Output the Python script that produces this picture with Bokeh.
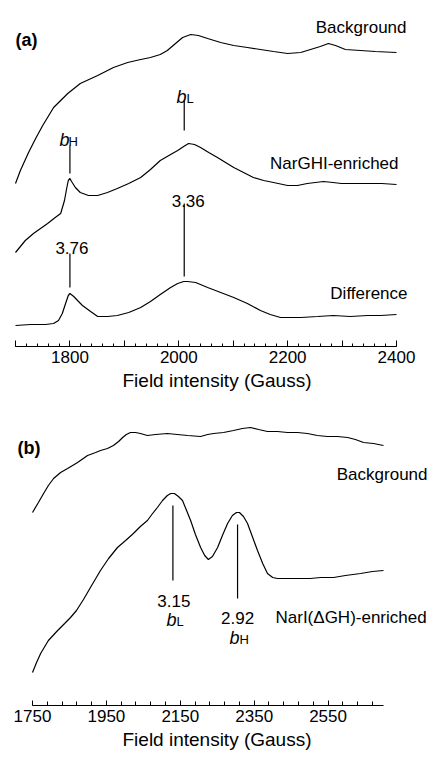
from bokeh.plotting import figure
from bokeh.layouts import column
from bokeh.models import Range1d, FixedTicker
from bokeh.core.properties import value
from bokeh.embed import file_html
from bokeh.resources import INLINE

# ---------------- data (field in Gauss, intensity in arbitrary units) ----------------
# Panel (a)
a_bg_field = [1700, 1709, 1724, 1737, 1750, 1770, 1796, 1819, 1851, 1880, 1906, 1930, 1948, 1966, 1979,
              1994, 2007, 2022, 2036, 2053, 2077, 2101, 2126, 2150, 2174, 2200, 2224, 2242, 2260, 2275,
              2288, 2306, 2334, 2361, 2400]
a_bg_int = [-131, -118, -100, -86, -73, -55, -41, -31, -23, -15, -10, -7, -5, -2, 2,
            9, 15, 18, 17, 14, 10, 7, 5, 3, 1, -1, 0, 3, 6, 9,
            7, 3, 2, 1, 0]

a_nar_field = [1700, 1718, 1733, 1746, 1759, 1773, 1783, 1790, 1794, 1797, 1800, 1803, 1810, 1819, 1834,
               1851, 1869, 1887, 1908, 1930, 1948, 1966, 1985, 1998, 2009, 2018, 2029, 2040, 2055, 2071,
               2086, 2101, 2119, 2137, 2156, 2174, 2200, 2218, 2236, 2251, 2266, 2283, 2299, 2327, 2349,
               2373, 2400]
a_nar_int = [-68, -56, -49, -44, -39, -33, -29, -16, -4, 4, 6, 3, -3, -8, -11,
             -11, -8, -4, 1, 7, 15, 24, 30, 34, 38, 41, 40, 37, 32, 27,
             22, 17, 12, 7, 4, 2, -1, -1, 1, 2, 3, 2, 1, 1, 1,
             1, 0]

a_diff_field = [1700, 1728, 1755, 1770, 1779, 1786, 1792, 1797, 1800, 1807, 1814, 1823, 1838, 1851, 1869,
                1887, 1908, 1930, 1948, 1966, 1985, 1998, 2009, 2016, 2031, 2053, 2077, 2101, 2126, 2150,
                2168, 2187, 2205, 2224, 2255, 2284, 2315, 2347, 2371, 2400]
a_diff_int = [-11, -10, -10, -9, -6, 1, 11, 19, 21, 18, 14, 9, 3, -2, -2,
              -1, 2, 7, 13, 20, 27, 31, 33, 33, 32, 27, 22, 17, 11, 4,
              0, -3, -3, -3, -2, -1, -2, -1, -1, 0]

# marker positions (Gauss) and their g-value labels, panel (a)
a_bH_field = 1800
a_bL_field = 2010
a_g_labels = ["3.76", "3.36"]

a_ticks = [1700, 1800, 1900, 2000, 2100, 2200, 2300, 2400]
a_tick_labels = {1700: "", 1800: "1800", 1900: "", 2000: "2000", 2100: "", 2200: "2200", 2300: "", 2400: "2400"}
a_minor = list(range(1700, 2401, 20))

# Panel (b)
b_bg_field = [1750, 1766, 1780, 1793, 1807, 1826, 1845, 1872, 1899, 1921, 1934, 1953, 1969, 1983, 1994,
              2004, 2015, 2029, 2042, 2061, 2083, 2115, 2142, 2170, 2205, 2224, 2240, 2267, 2294, 2318,
              2340, 2362, 2386, 2413, 2440, 2467, 2494, 2521, 2548, 2575, 2603, 2624, 2646, 2673, 2700]
b_bg_int = [-67, -57, -48, -40, -33, -27, -23, -17, -10, -7, -5, -3, 0, 4, 8,
            11, 13, 13, 12, 10, 11, 12, 11, 10, 9, 11, 12, 13, 15, 17,
            18, 16, 14, 14, 13, 13, 12, 10, 9, 9, 8, 6, 3, 2, 0]

b_nar_field = [1750, 1761, 1772, 1793, 1818, 1837, 1853, 1869, 1888, 1910, 1934, 1956, 1980, 2002, 2023,
               2042, 2061, 2075, 2088, 2102, 2115, 2124, 2134, 2145, 2156, 2167, 2178, 2191, 2205, 2216,
               2226, 2237, 2251, 2264, 2278, 2291, 2302, 2310, 2321, 2332, 2345, 2359, 2373, 2386, 2400,
               2413, 2448, 2475, 2502, 2530, 2565, 2597, 2638, 2670, 2700]
b_nar_int = [-102, -92, -83, -70, -60, -53, -47, -40, -29, -15, 0, 12, 23, 30, 37,
             44, 50, 57, 63, 70, 75, 77, 77, 74, 70, 60, 50, 36, 23, 15,
             11, 14, 23, 35, 47, 55, 58, 58, 54, 47, 34, 20, 7, -3, -7,
             -8, -8, -8, -8, -7, -7, -5, -3, -1, 0]

b_bL_field = 2130
b_bH_field = 2305
b_g_labels = ["3.15", "2.92"]

b_ticks = [1750, 1950, 2150, 2350, 2550]
b_minor = list(range(1750, 2700, 40))

# ---------------- layout constants (image pixels) ----------------
FONT = "Liberation Sans"
W = 433
LW = 1.2

A_TOP, A_AXIS, A_H = 0, 346, 400
A_L, A_R = 15, 396
SA = (A_R - A_L) / (2400 - 1700)
A_X0 = 1700 - A_L / SA

B_TOP, B_AXIS, B_H = 400, 705, 358
B_L, B_R = 32, 383
SB = (B_R - B_L) / (2700 - 1750)
B_X0 = 1750 - B_L / SB


def ax(px):
    return 1700 + (px - A_L) / SA


def ay(py):
    return A_AXIS - py


def bx(px):
    return 1750 + (px - B_L) / SB


def by(py):
    return B_AXIS - py


def base_fig(height, frame_h, x0, scale):
    p = figure(width=W, height=height,
               x_range=Range1d(x0, x0 + W / scale), y_range=Range1d(0, frame_h),
               output_backend="svg", toolbar_location=None, y_axis_location=None,
               min_border_left=0, min_border_right=0, min_border_top=0,
               min_border_bottom=height - frame_h)
    p.xgrid.visible = False
    p.ygrid.visible = False
    p.outline_line_color = None
    p.background_fill_color = "white"
    p.border_fill_color = "white"
    xa = p.xaxis[0]
    xa.axis_line_color = "black"
    xa.axis_line_width = 1
    xa.major_tick_line_color = "black"
    xa.minor_tick_line_color = "black"
    xa.major_tick_out = 0
    xa.minor_tick_out = 0
    xa.major_label_text_font = FONT
    xa.major_label_text_font_size = "17px"
    xa.major_label_text_color = "black"
    xa.major_label_standoff = 4
    xa.axis_label = "Field intensity (Gauss)"
    xa.axis_label_text_font = FONT
    xa.axis_label_text_font_size = "19px"
    xa.axis_label_text_font_style = "normal"
    xa.axis_label_text_color = "black"
    xa.axis_label_standoff = 4
    return p


def txt(p, x, y, s, size="17px", align="left", style="normal"):
    p.text(x=[x], y=[y], text=[s], text_font=value(FONT), text_font_size=size,
           text_align=align, text_baseline="alphabetic", text_font_style=style, text_color="black")


# ---------------- panel (a) ----------------
pa = base_fig(A_H, A_AXIS - A_TOP, A_X0, SA)
axa = pa.xaxis[0]
axa.ticker = FixedTicker(ticks=a_ticks, minor_ticks=a_minor)
axa.major_label_overrides = a_tick_labels
axa.bounds = (1700, 2400)
axa.major_tick_in = 6
axa.minor_tick_in = 3

OFF_A_BG, OFF_A_NAR, OFF_A_DIFF = ay(52), ay(184), ay(314)
pa.line(a_bg_field, [v + OFF_A_BG for v in a_bg_int], line_color="black", line_width=LW)
pa.line(a_nar_field, [v + OFF_A_NAR for v in a_nar_int], line_color="black", line_width=LW)
pa.line(a_diff_field, [v + OFF_A_DIFF for v in a_diff_int], line_color="black", line_width=LW)

pa.segment(x0=[a_bH_field, a_bL_field, a_bL_field, a_bH_field],
           y0=[ay(145), ay(100), ay(203), ay(253)],
           x1=[a_bH_field, a_bL_field, a_bL_field, a_bH_field],
           y1=[ay(173), ay(130), ay(276), ay(287)],
           line_color="black", line_width=1.2)

txt(pa, ax(15), ay(39), "(a)", size="18px", style="bold")
txt(pa, ax(406), ay(27), "Background", align="right")
txt(pa, ax(398), ay(163), "NarGHI-enriched", align="right")
txt(pa, ax(407), ay(293), "Difference", align="right")
txt(pa, ax(59), ay(139), "b", size="18px", style="italic")
txt(pa, ax(68), ay(141), "H", size="13px")
txt(pa, ax(176), ay(96), "b", size="18px", style="italic")
txt(pa, ax(186), ay(98), "L", size="13px")
txt(pa, a_bL_field + (ax(188) - ax(184)), ay(200), a_g_labels[1], align="center")
txt(pa, a_bH_field + (ax(72) - ax(70)), ay(247), a_g_labels[0], align="center")

# ---------------- panel (b) ----------------
pb = base_fig(B_H, B_AXIS - B_TOP, B_X0, SB)
axb = pb.xaxis[0]
axb.ticker = FixedTicker(ticks=b_ticks, minor_ticks=b_minor)
axb.bounds = (1750, 2700)
axb.major_tick_in = 5
axb.minor_tick_in = 4

OFF_B_BG, OFF_B_NAR = by(445), by(570)
pb.line(b_bg_field, [v + OFF_B_BG for v in b_bg_int], line_color="black", line_width=LW)
pb.line(b_nar_field, [v + OFF_B_NAR for v in b_nar_int], line_color="black", line_width=LW)

pb.segment(x0=[b_bL_field, b_bH_field], y0=[by(505), by(524)],
           x1=[b_bL_field, b_bH_field], y1=[by(580), by(598)],
           line_color="black", line_width=1.2)

txt(pb, bx(17), by(447), "(b)", size="18px", style="bold")
txt(pb, bx(427), by(474), "Background", align="right")
txt(pb, bx(275), by(617), "NarI(\u0394GH)-enriched")
txt(pb, b_bL_field + (bx(173) - bx(172)), by(600), b_g_labels[0], align="center")
txt(pb, b_bH_field, by(617), b_g_labels[1], align="center")
txt(pb, bx(166), by(619), "b", size="18px", style="italic")
txt(pb, bx(176), by(621), "L", size="13px")
txt(pb, bx(229), by(637), "b", size="18px", style="italic")
txt(pb, bx(239), by(639), "H", size="13px")

layout = column(pa, pb)
open("out.html", "w").write(file_html(layout, INLINE))
